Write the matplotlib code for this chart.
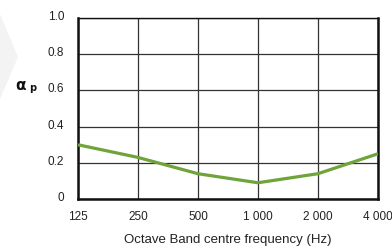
import matplotlib
matplotlib.use("Agg")
import matplotlib.pyplot as plt
from matplotlib.patches import Polygon
from matplotlib.transforms import ScaledTranslation

freqs = ["125", "250", "500", "1 000", "2 000", "4 000"]
alpha_p = [0.30, 0.23, 0.14, 0.09, 0.14, 0.25]
yticks = [0, 0.2, 0.4, 0.6, 0.8, 1.0]
ytick_labels = ["0", "0.2", "0.4", "0.6", "0.8", "1.0"]

plt.rcParams['font.family'] = ['Liberation Sans', 'DejaVu Sans']

W, H = 392, 251
fig = plt.figure(figsize=(W / 100, H / 100), dpi=100)
# faint decorative chevron at left
fig.patches.append(Polygon([[0, 1 - 15 / H], [18 / W, 1 - 58 / H], [0, 1 - 100 / H]],
                           closed=True, transform=fig.transFigure,
                           facecolor='#f3f3f3', edgecolor='none', zorder=0))
ax = fig.add_axes([0.199, 0.203, 0.765, 0.721])
x = list(range(len(freqs)))
ax.plot(x, alpha_p, color='#6ea43a', lw=2.3, solid_capstyle='butt', zorder=3)
ax.set_xlim(0, len(freqs) - 1)
ax.set_ylim(0, 1.0)
ax.set_xticks(x)
ax.set_xticklabels(freqs)
ax.set_yticks(yticks)
ax.set_yticklabels(ytick_labels)
ax.tick_params(length=0, labelsize=8.5, colors='#222222')
ax.tick_params(axis='y', pad=10)
ax.tick_params(axis='x', pad=8)
off = ScaledTranslation(0, 3.5 / 100, fig.dpi_scale_trans)
for lab in ax.get_yticklabels():
    lab.set_transform(lab.get_transform() + off)
ax.grid(True, color='#333333', lw=0.9)
for s in ['left', 'bottom', 'right']:
    ax.spines[s].set_linewidth(1.8)
ax.spines['top'].set_linewidth(1.0)
for s in ax.spines.values():
    s.set_color('#111111')
ax.set_xlabel("Octave Band centre frequency (Hz)", fontsize=9.5, color='#222222', labelpad=8)
fig.text(15 / W, 1 - 86 / H, "α", fontsize=11, fontweight='bold',
         family=['DejaVu Sans'], color='#111111', ha='left', va='center')
fig.text(29 / W, 1 - 88 / H, "p", fontsize=7, fontweight='bold',
         family=['DejaVu Sans'], color='#111111', ha='left', va='center')
fig.savefig("out.png", dpi=100)
